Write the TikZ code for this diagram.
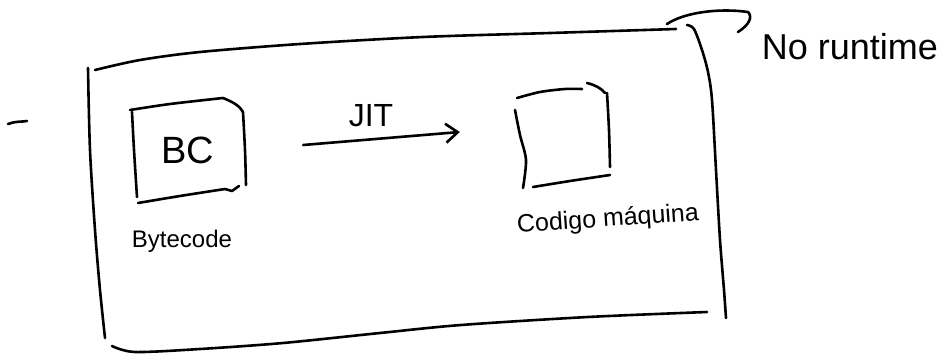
\documentclass[tikz,border=0pt]{standalone}
\usepackage{fontspec}
\setmainfont{Liberation Sans}
\usetikzlibrary{arrows.meta,calc}
\tikzset{
  pen/.style={line width=2.6pt, line cap=round, line join=round, black},
  hand/.style={font=\fontsize{#1}{#1}\selectfont, inner sep=0pt},
  boxnode/.style={minimum width=#1, minimum height=92pt, inner sep=0pt, draw=none},
}
\begin{document}
\begin{tikzpicture}[x=1pt,y=-1pt]
\useasboundingbox (0,0) rectangle (945,356);
\fill[white] (0,0) rectangle (945,356);

% stray dash on the left
\draw[pen] (8,124) .. controls (15,121) and (22,122) .. (27,121);

% big frame
\draw[pen] plot[smooth] coordinates {(95,70) (140,60) (200,52) (300,44) (423,37) (550,33) (676,29)};
\draw[pen] plot[smooth] coordinates {(88,68) (90,150) (95,230) (100,290) (105,338)};
\draw[pen] plot[smooth] coordinates {(687,25) (694,29) (702,50) (708,72) (712,100) (716,170) (720,240) (724,290) (726,318)};
\draw[pen] plot[smooth] coordinates {(112,346) (135,352) (200,349) (283,343) (380,333) (461,325) (588,317) (707,312)};

% curved arrow to "No runtime"
\coordinate (frameTR) at (667,24);
\node[hand=36, anchor=center] (rt) at (850,47) {No runtime};
\draw[pen] (frameTR) .. controls (685,12) and (720,8) .. (748,12)
           .. controls (753,17) and (749,25) .. (738,32);

% Bytecode box
\node[boxnode=110pt, hand=38] (bc) at (188,150) {BC};
\draw[pen] plot[smooth] coordinates {(130,110) (170,104) (223,98)};
\draw[pen] (223,98) .. controls (233,102) and (240,106) .. (243,112);
\draw[pen] plot[smooth] coordinates {(243,112) (245,150) (246,185)};
\draw[pen] plot[smooth] coordinates {(132,112) (134,150) (137,197)};
\draw[pen] plot[smooth] coordinates {(138,203) (180,196) (225,189)};
\draw[pen] (225,189) -- (232,191) -- (239,186);
\node[hand=24] (bytecode) at (182,241) {Bytecode};

% machine code box
\node[boxnode=96pt] (mc) at (563,137) {};
\draw[pen] plot[smooth] coordinates {(517,98) (540,92) (565,89) (582,89)};
\draw[pen] (587,83) .. controls (595,85) and (601,88) .. (605,93);
\draw[pen] plot[smooth] coordinates {(607,93) (609,130) (610,167)};
\draw[pen] plot[smooth] coordinates {(515,110) (520,135) (526,160) (523,188)};
\draw[pen] plot[smooth] coordinates {(533,187) (570,181) (610,175)};
\node[hand=25, rotate=4] (mclabel) at (608,220) {Codigo máquina};

% JIT arrow
\draw[pen, -{Straight Barb[length=12pt,width=19pt]}]
  ($(bc.east)+(60,-5)$) -- ($(mc.west)+(-55,-5)$);
\node[hand=32] (jit) at (371,116) {JIT};
\end{tikzpicture}
\end{document}
